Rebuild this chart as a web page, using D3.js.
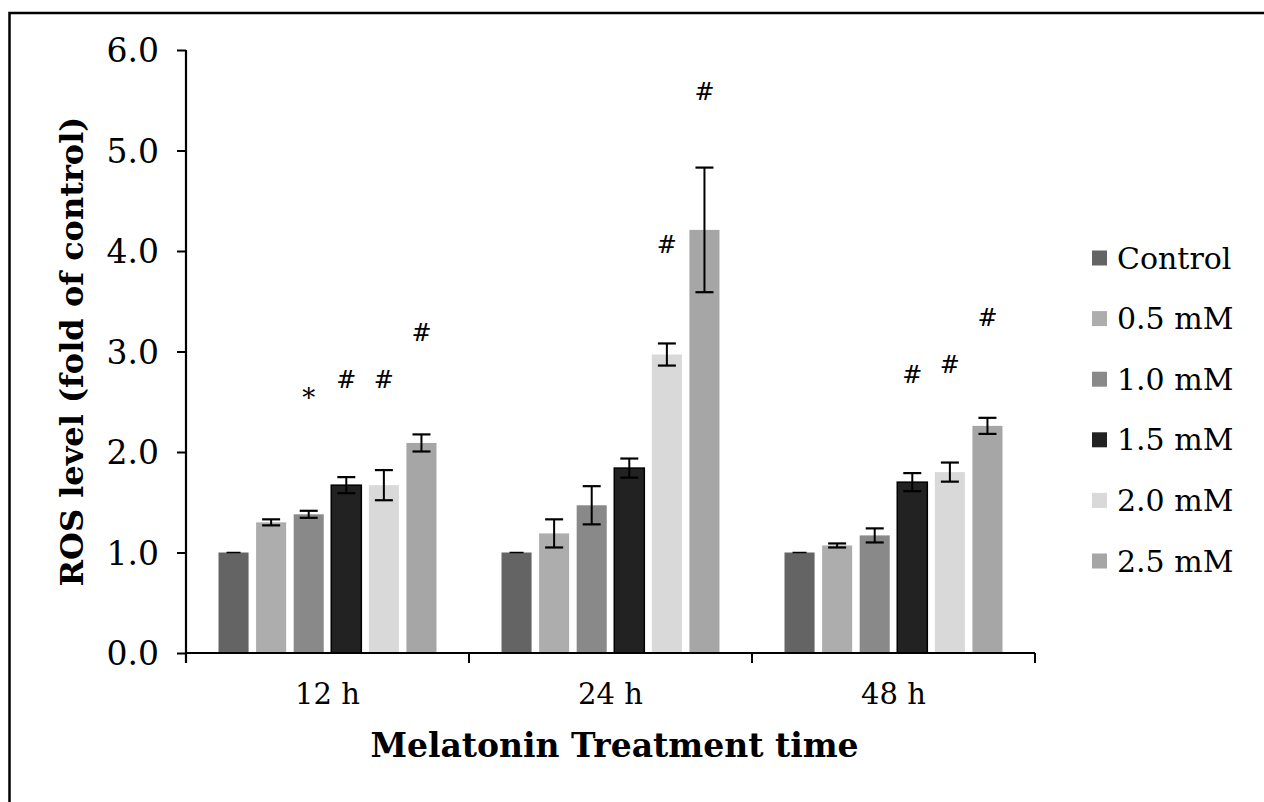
<!DOCTYPE html>
<html>
<head>
<meta charset="utf-8">
<script src="https://cdn.jsdelivr.net/npm/d3@7"></script>
<style>
  html, body { margin: 0; padding: 0; background: #fff; }
  svg { display: block; }
  text { font-family: "DejaVu Serif", Georgia, serif; fill: #000; }
</style>
</head>
<body>
<svg id="chart" width="1264" height="802"></svg>
<script>
// ---- data ----
const categories = ["12 h", "24 h", "48 h"];
const series = ["Control", "0.5 mM", "1.0 mM", "1.5 mM", "2.0 mM", "2.5 mM"];
const colors = ["#646464", "#adadad", "#898989", "#222222", "#d9d9d9", "#a6a6a6"];
// values per series, order matches categories
const valControl = [1.00, 1.00, 1.00];
const val05 = [1.30, 1.19, 1.07];
const val10 = [1.38, 1.47, 1.17];
const val15 = [1.67, 1.84, 1.70];
const val20 = [1.67, 2.97, 1.80];
const val25 = [2.09, 4.21, 2.26];
const errControl = [0.0, 0.0, 0.0];
const err05 = [0.03, 0.14, 0.02];
const err10 = [0.035, 0.19, 0.07];
const err15 = [0.08, 0.095, 0.09];
const err20 = [0.15, 0.11, 0.095];
const err25 = [0.085, 0.62, 0.08];
// significance marks: [category, series, symbol, level]
const marks = [
  ["12 h", "1.0 mM", "*", 2.54],
  ["12 h", "1.5 mM", "#", 2.72],
  ["12 h", "2.0 mM", "#", 2.72],
  ["12 h", "2.5 mM", "#", 3.18],
  ["24 h", "2.0 mM", "#", 4.06],
  ["24 h", "2.5 mM", "#", 5.58],
  ["48 h", "1.5 mM", "#", 2.77],
  ["48 h", "2.0 mM", "#", 2.87],
  ["48 h", "2.5 mM", "#", 3.33]
];
const yTicks = [0, 1, 2, 3, 4, 5, 6];
const xTitle = "Melatonin Treatment time";
const yTitle = "ROS level (fold of control)";

const values = [valControl, val05, val10, val15, val20, val25];
const errors = [errControl, err05, err10, err15, err20, err25];

// ---- layout ----
const svg = d3.select("#chart");
const plot = { left: 186, right: 1035, top: 50, bottom: 653 };

// outer frame (only top and left edges visible in the picture)
svg.append("rect")
  .attr("x", 9.5).attr("y", 13).attr("width", 1300).attr("height", 850)
  .attr("fill", "none").attr("stroke", "#000").attr("stroke-width", 2.5);

const x0 = d3.scaleBand().domain(categories).range([plot.left, plot.right]).padding(0);
const x1 = d3.scaleBand().domain(series).range([0, x0.bandwidth()])
  .paddingInner(0.2).paddingOuter(0.865);
const y = d3.scaleLinear().domain([0, 6]).range([plot.bottom, plot.top]);

// bars
const rows = [];
series.forEach((s, si) => {
  categories.forEach((c, ci) => {
    rows.push({ s, c, si, v: values[si][ci], e: errors[si][ci] });
  });
});

const g = svg.append("g");
g.selectAll("rect.bar").data(rows).join("rect")
  .attr("class", "bar")
  .attr("x", d => x0(d.c) + x1(d.s))
  .attr("y", d => y(d.v))
  .attr("width", x1.bandwidth())
  .attr("height", d => y(0) - y(d.v))
  .attr("fill", d => colors[d.si])
  .attr("stroke", d => d.s === "1.5 mM" ? "#000" : "none")
  .attr("stroke-width", 1.5);

// error bars
const eg = g.selectAll("g.err").data(rows.filter(d => d.e > 0)).join("g").attr("class", "err");
const cx = d => x0(d.c) + x1(d.s) + x1.bandwidth() / 2;
const capW = 9;
eg.append("line")
  .attr("x1", cx).attr("x2", cx)
  .attr("y1", d => y(d.v + d.e)).attr("y2", d => y(d.v - d.e))
  .attr("stroke", "#000").attr("stroke-width", 2);
eg.append("line")
  .attr("x1", d => cx(d) - capW).attr("x2", d => cx(d) + capW)
  .attr("y1", d => y(d.v + d.e)).attr("y2", d => y(d.v + d.e))
  .attr("stroke", "#000").attr("stroke-width", 2.2);
eg.append("line")
  .attr("x1", d => cx(d) - capW).attr("x2", d => cx(d) + capW)
  .attr("y1", d => y(d.v - d.e)).attr("y2", d => y(d.v - d.e))
  .attr("stroke", "#000").attr("stroke-width", 2.2);
// control bars: flat cap at 1.0
g.selectAll("line.ctl").data(rows.filter(d => d.e === 0)).join("line")
  .attr("class", "ctl")
  .attr("x1", d => cx(d) - capW + 2).attr("x2", d => cx(d) + capW - 2)
  .attr("y1", d => y(d.v)).attr("y2", d => y(d.v))
  .attr("stroke", "#000").attr("stroke-width", 1.5);

// significance marks
g.selectAll("text.mark").data(marks).join("text")
  .attr("class", "mark")
  .attr("x", d => x0(d[0]) + x1(d[1]) + x1.bandwidth() / 2)
  .attr("y", d => y(d[3]))
  .attr("text-anchor", "middle")
  .attr("dominant-baseline", "central")
  .attr("font-size", d => d[2] === "*" ? 26 : 24)
  .attr("font-style", "italic")
  .text(d => d[2]);

// y axis
const yAxis = d3.axisLeft(y).tickValues(yTicks).tickFormat(d3.format(".1f"))
  .tickSize(9).tickSizeOuter(0).tickPadding(18);
const yg = svg.append("g").attr("transform", `translate(${plot.left},0)`).call(yAxis);
yg.select(".domain").attr("stroke", "#000").attr("stroke-width", 2.2)
  .attr("d", `M0,${plot.top}V${plot.bottom + 10}`);
yg.selectAll(".tick line").attr("stroke", "#000").attr("stroke-width", 2);
yg.selectAll(".tick text").attr("font-size", 33).attr("font-family", "DejaVu Serif")
  .attr("fill", "#000").attr("dy", "0.35em");

// x axis
const xg = svg.append("g");
xg.append("line").attr("x1", plot.left).attr("x2", plot.right)
  .attr("y1", plot.bottom).attr("y2", plot.bottom)
  .attr("stroke", "#000").attr("stroke-width", 2.2);
const bounds = categories.map(c => x0(c)).concat([plot.right]);
xg.selectAll("line.tk").data(bounds).join("line")
  .attr("class", "tk")
  .attr("x1", d => d).attr("x2", d => d)
  .attr("y1", plot.bottom).attr("y2", plot.bottom + 10)
  .attr("stroke", "#000").attr("stroke-width", 2);
xg.selectAll("text.cat").data(categories).join("text")
  .attr("class", "cat")
  .attr("x", d => x0(d) + x0.bandwidth() / 2)
  .attr("y", 694)
  .attr("text-anchor", "middle")
  .attr("dominant-baseline", "central")
  .attr("font-size", 29)
  .text(d => d);

// axis titles
svg.append("text")
  .attr("x", (plot.left + plot.right) / 2 + 4)
  .attr("y", 745)
  .attr("text-anchor", "middle")
  .attr("dominant-baseline", "central")
  .attr("font-size", 33)
  .attr("font-weight", "bold")
  .text(xTitle);
svg.append("text")
  .attr("transform", `translate(72,${(plot.top + plot.bottom) / 2}) rotate(-90)`)
  .attr("text-anchor", "middle")
  .attr("dominant-baseline", "central")
  .attr("font-size", 32)
  .attr("font-weight", "bold")
  .text(yTitle);

// legend
const lg = svg.append("g").attr("transform", "translate(1092,258)");
const li = lg.selectAll("g").data(series).join("g")
  .attr("transform", (d, i) => `translate(0,${i * 60.6})`);
li.append("rect").attr("x", 0).attr("y", -7.5).attr("width", 15).attr("height", 15)
  .attr("fill", (d, i) => colors[i]);
li.append("text").attr("x", 25).attr("y", 0)
  .attr("dominant-baseline", "central")
  .attr("font-size", 30)
  .text(d => d);
</script>
</body>
</html>
